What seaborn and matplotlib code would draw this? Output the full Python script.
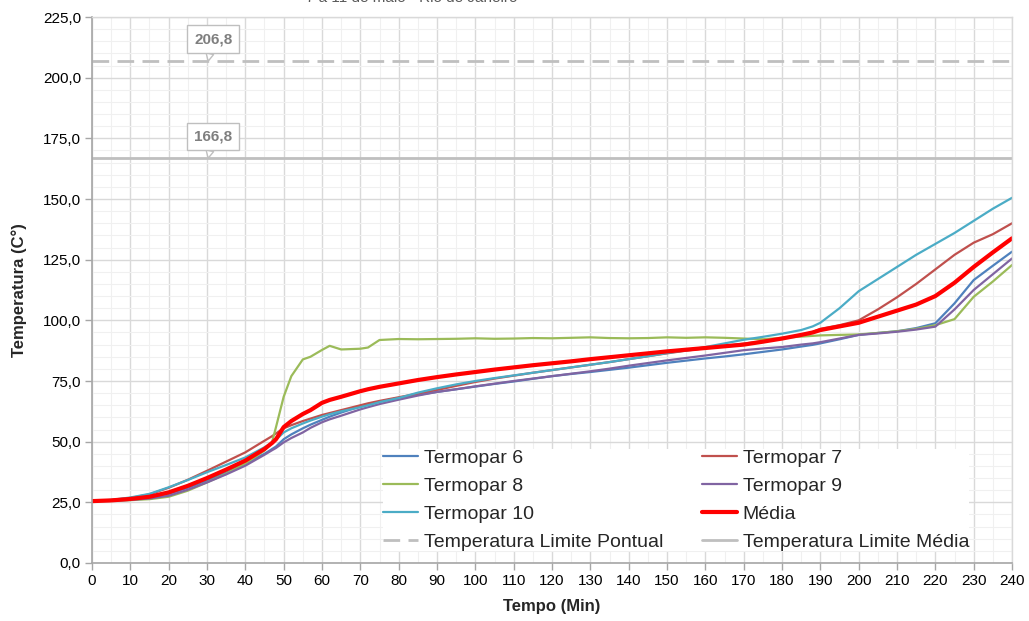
import numpy as np
import pandas as pd
import matplotlib
matplotlib.use("Agg")
import matplotlib.pyplot as plt
from matplotlib.ticker import MultipleLocator, FuncFormatter
import seaborn as sns

# time (min)
tempo = [0, 5, 10, 15, 20, 25, 30, 35, 40, 45, 47, 48, 50, 52, 55, 57, 60, 62, 65, 70, 72,
         75, 80, 85, 90, 95, 100, 105, 110, 115, 120, 125, 130, 135, 140, 145, 150, 155,
         160, 165, 170, 175, 180, 185, 188, 190, 195, 200, 205, 210, 215, 220, 225, 230,
         235, 240]

termopar6 = [25.5, 25.8, 26.3, 27.2, 28.5, 31.0, 34.0, 37.3, 41.0, 45.0, 47.0, 48.0, 51.0, 53.0,
             55.5, 57.0, 59.0, 60.3, 62.0, 64.5, 65.3, 66.5, 68.0, 69.3, 70.5, 71.6, 72.7, 73.8,
             74.8, 75.9, 77.0, 77.9, 78.7, 79.6, 80.5, 81.5, 82.5, 83.4, 84.3, 85.1, 86.0, 87.0,
             88.0, 89.2, 89.9, 90.5, 92.2, 94.0, 94.8, 95.5, 96.8, 98.8, 107.0, 116.6, 122.5, 128.3]

termopar7 = [25.5, 25.9, 26.8, 28.3, 31.0, 34.3, 38.0, 41.8, 45.6, 50.4, 52.3, 53.4, 55.5, 56.8,
             58.5, 59.5, 61.0, 61.8, 63.0, 65.0, 65.8, 66.8, 68.3, 69.8, 71.3, 73.0, 74.6, 76.0,
             77.2, 78.4, 79.5, 80.6, 81.7, 82.8, 84.0, 85.2, 86.4, 87.5, 88.5, 89.5, 90.4, 91.4,
             92.6, 94.0, 95.2, 96.5, 98.0, 100.0, 104.5, 109.5, 115.0, 121.0, 127.0, 132.0, 135.5, 140.0]

termopar8 = [25.5, 25.6, 25.9, 26.3, 27.3, 29.8, 33.2, 36.8, 41.0, 46.3, 50.0, 56.0, 68.5, 77.0,
             83.9, 85.0, 87.8, 89.5, 88.0, 88.3, 88.8, 91.9, 92.3, 92.2, 92.3, 92.4, 92.6, 92.4,
             92.5, 92.7, 92.6, 92.8, 93.0, 92.7, 92.6, 92.7, 93.0, 92.8, 93.0, 92.8, 92.5, 92.2,
             92.8, 93.3, 93.6, 93.8, 94.0, 94.2, 94.8, 95.5, 96.5, 98.0, 100.5, 109.7, 116.0, 122.8]

termopar9 = [25.5, 25.6, 26.0, 26.6, 27.7, 30.2, 33.2, 36.5, 40.1, 44.6, 46.5, 47.4, 49.7, 51.5,
             53.8, 55.7, 58.0, 59.2, 60.7, 63.3, 64.2, 65.5, 67.3, 69.0, 70.5, 71.6, 72.8, 73.9,
             75.0, 76.0, 77.0, 78.0, 79.0, 80.1, 81.3, 82.4, 83.5, 84.5, 85.5, 86.6, 87.7, 88.4,
             89.0, 90.0, 90.5, 91.0, 92.5, 94.0, 94.6, 95.3, 96.2, 97.4, 104.5, 112.5, 119.0, 125.5]

termopar10 = [25.5, 26.0, 27.0, 28.5, 31.2, 34.2, 37.4, 40.4, 43.5, 47.7, 49.5, 50.8, 53.8, 55.5,
              57.5, 58.7, 60.3, 61.3, 62.5, 64.2, 65.0, 66.3, 68.0, 70.2, 72.0, 73.6, 75.0, 76.2,
              77.3, 78.4, 79.5, 80.6, 81.7, 82.8, 84.0, 85.2, 86.5, 87.7, 89.0, 90.5, 92.0, 93.2,
              94.5, 96.0, 97.5, 99.0, 105.0, 112.0, 117.0, 122.0, 127.0, 131.5, 136.0, 141.0, 146.0, 150.5]

media = [25.5, 25.8, 26.4, 27.3, 29.1, 31.8, 35.0, 38.5, 42.2, 47.0, 49.5, 51.0, 56.0, 58.5,
         61.4, 63.0, 66.0, 67.2, 68.5, 70.8, 71.6, 72.6, 74.0, 75.4, 76.6, 77.7, 78.7, 79.7,
         80.6, 81.5, 82.3, 83.1, 84.0, 84.8, 85.6, 86.4, 87.2, 87.9, 88.6, 89.3, 90.0, 91.2,
         92.5, 94.0, 95.0, 96.0, 97.5, 99.0, 101.5, 104.0, 106.5, 110.0, 115.5, 122.0, 128.0, 133.8]

limite_pontual = 206.8
limite_media = 166.8

series = {
    "Termopar 6": (termopar6, "#4F81BD", 1.6),
    "Termopar 7": (termopar7, "#C0504D", 1.6),
    "Termopar 8": (termopar8, "#9BBB59", 1.6),
    "Termopar 9": (termopar9, "#8064A2", 1.6),
    "Termopar 10": (termopar10, "#4BACC6", 1.6),
    "Média": (media, "#FF0000", 3.0),
}

sns.set_theme(style="whitegrid")
plt.rcParams['font.family'] = ['Liberation Sans', 'DejaVu Sans']

fig = plt.figure(figsize=(10.29, 6.21), dpi=100)
ax = fig.add_axes([0.0894, 0.0934, 0.8941, 0.8792])

handles = {}
for name, (vals, color, lw) in series.items():
    sns.lineplot(x=tempo, y=vals, ax=ax, color=color, linewidth=lw, label=name)
    handles[name] = ax.get_lines()[-1]

lp = ax.axhline(limite_pontual, color="#BFBFBF", lw=2, dashes=(6, 3), label="Temperatura Limite Pontual")
lm = ax.axhline(limite_media, color="#BFBFBF", lw=2, label="Temperatura Limite Média")
handles["Temperatura Limite Pontual"] = lp
handles["Temperatura Limite Média"] = lm

# callout labels on the limit lines
for val, ybox in [(limite_pontual, 215.8), (limite_media, 175.8)]:
    ax.annotate(f"{val:.1f}".replace(".", ","), xy=(30.3, val), xytext=(31.6, ybox),
                ha="center", va="center", fontsize=11, fontweight="bold", color="#7F7F7F",
                bbox=dict(boxstyle="square,pad=0.45", fc="white", ec="#BFBFBF", lw=1),
                arrowprops=dict(arrowstyle="wedge,tail_width=0.5,shrink_factor=0.5",
                                fc="white", ec="#BFBFBF", lw=1, shrinkA=0, shrinkB=0),
                zorder=5)

ax.set_xlim(0, 240)
ax.set_ylim(0, 225)
ax.xaxis.set_major_locator(MultipleLocator(10))
ax.xaxis.set_minor_locator(MultipleLocator(5))
ax.yaxis.set_major_locator(MultipleLocator(25))
ax.yaxis.set_minor_locator(MultipleLocator(5))
ax.yaxis.set_major_formatter(FuncFormatter(lambda v, p: f"{v:.1f}".replace(".", ",")))
ax.grid(which="major", color="#D9D9D9", lw=1)
ax.grid(which="minor", color="#F0F0F0", lw=0.8)
ax.set_axisbelow(True)

for side in ["left", "bottom"]:
    ax.spines[side].set_color("#A6A6A6")
    ax.spines[side].set_linewidth(1.2)
for side in ["top", "right"]:
    ax.spines[side].set_color("#D9D9D9")
    ax.spines[side].set_linewidth(1)

ax.tick_params(axis="both", which="major", labelsize=11, length=5, width=1,
               color="#A6A6A6", labelcolor="#000000", direction="out", pad=3)
ax.tick_params(axis="both", which="minor", length=0)
ax.tick_params(bottom=True, left=True)

ax.set_xlabel("Tempo (Min)", fontsize=12, fontweight="bold", labelpad=8)
ax.set_ylabel("Temperatura (C°)", fontsize=12, fontweight="bold", labelpad=11)

order = ["Termopar 6", "Termopar 8", "Termopar 10", "Temperatura Limite Pontual",
         "Termopar 7", "Termopar 9", "Média", "Temperatura Limite Média"]
leg = ax.legend([handles[k] for k in order], order, ncol=2, loc="lower left",
                bbox_to_anchor=(0.3055, 0.004), fontsize=14, frameon=True, fancybox=False,
                facecolor="white", edgecolor="none", framealpha=1,
                handlelength=1.8, handletextpad=0.3, columnspacing=2.0,
                labelspacing=0.54, borderpad=0.0)

fig.text(0.40, 1.003, "7 a 11 de maio - Rio de Janeiro", ha="center", va="center",
         fontsize=11, color="#595959")

fig.savefig("out.png", dpi=100)
